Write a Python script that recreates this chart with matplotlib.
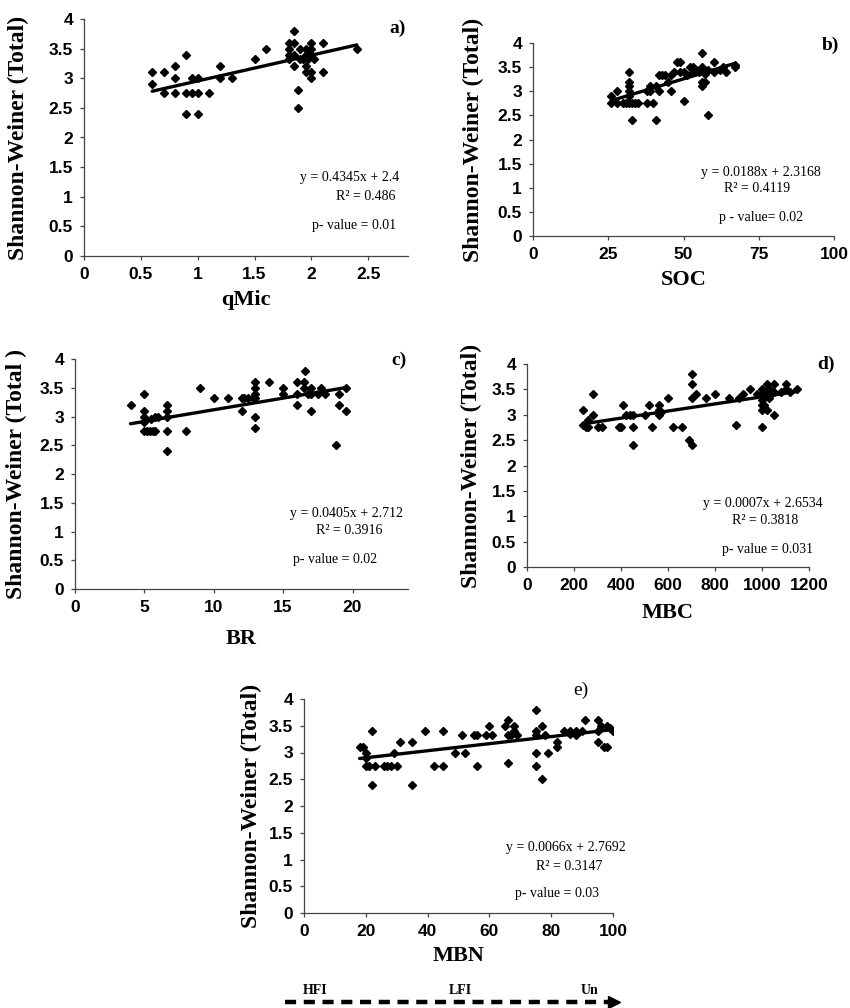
import numpy as np
import matplotlib
matplotlib.use("Agg")
import matplotlib.pyplot as plt
from matplotlib.lines import Line2D
from matplotlib.ticker import FormatStrFormatter

# panel a) qMic
qmic_x = [0.6, 0.6, 0.7, 0.7, 0.8, 0.8, 0.8, 0.9, 0.9, 0.9, 0.95, 0.95, 1.0, 1.0, 1.0, 1.1,
          1.2, 1.2, 1.3, 1.5, 1.6, 1.8, 1.8, 1.8, 1.8, 1.85, 1.85, 1.85, 1.85, 1.88, 1.88,
          1.9, 1.9, 1.93, 1.95, 1.95, 1.95, 1.95, 1.97, 1.98, 2.0, 2.0, 2.0, 2.0, 2.0, 2.02,
          2.1, 2.1, 2.4]
qmic_y = [3.1, 2.9, 3.1, 2.75, 3.2, 3.0, 2.75, 3.4, 2.75, 2.4, 2.75, 3.0, 3.0, 2.75, 2.4, 2.75,
          3.2, 3.0, 3.0, 3.33, 3.5, 3.6, 3.5, 3.4, 3.33, 3.8, 3.6, 3.4, 3.2, 2.8, 2.5,
          3.33, 3.5, 3.33, 3.5, 3.4, 3.2, 3.1, 3.33, 3.45, 3.6, 3.5, 3.4, 3.1, 3.0, 3.33,
          3.6, 3.1, 3.5]

# panel b) SOC
soc_x = [26, 26, 28, 28, 30, 31, 32, 32, 32, 32, 32, 32, 33, 33, 34, 35, 38, 38, 39, 39, 40,
         41, 41, 42, 42, 43, 44, 45, 46, 46, 47, 48, 49, 49, 50, 50, 51, 52, 53, 53, 54, 55,
         56, 56, 56, 56, 57, 57, 58, 58, 60, 60, 62, 63, 64, 67, 67]
soc_y = [2.9, 2.75, 3.0, 2.75, 2.75, 2.75, 3.4, 3.2, 3.1, 3.0, 2.9, 2.75, 2.75, 2.4, 2.75, 2.75,
         3.0, 2.75, 3.1, 3.0, 2.75, 3.1, 2.4, 3.33, 3.0, 3.33, 3.33, 3.2, 3.33, 3.0, 3.4, 3.6,
         3.6, 3.4, 3.4, 2.8, 3.33, 3.5, 3.4, 3.5, 3.45, 3.4, 3.8, 3.5, 3.2, 3.1, 3.2, 3.35,
         2.5, 3.45, 3.6, 3.4, 3.45, 3.5, 3.4, 3.5, 3.55]

# panel c) BR
br_x = [4, 5, 5, 5, 5, 5, 5.2, 5.4, 5.6, 5.8, 5.5, 5.8, 6, 6.6, 6.6, 6.6, 6.6, 6.6, 8, 9, 10,
        11, 12, 12, 12.2, 12.5, 12.8, 13, 13, 13, 13, 13, 13, 14, 15, 15, 16, 16, 16, 16.5,
        16.5, 16.6, 16.8, 17, 17, 17, 17.5, 17.7, 18, 18.8, 19, 19, 19.5, 19.5]
br_y = [3.2, 3.4, 3.1, 3.0, 2.9, 2.75, 2.75, 2.75, 2.75, 2.75, 2.95, 3.0, 3.0, 3.2, 3.1, 3.0,
        2.75, 2.4, 2.75, 3.5, 3.33, 3.33, 3.33, 3.1, 3.33, 3.33, 3.33, 3.6, 3.5, 3.4, 3.33,
        3.0, 2.8, 3.6, 3.5, 3.4, 3.6, 3.4, 3.2, 3.6, 3.5, 3.8, 3.4, 3.5, 3.4, 3.1, 3.4, 3.5,
        3.4, 2.5, 3.4, 3.2, 3.1, 3.5]

# panel d) MBC
mbc_x = [240, 240, 250, 260, 260, 280, 280, 300, 320, 390, 400, 410, 420, 440, 450, 450, 450,
         500, 520, 530, 560, 560, 560, 570, 600, 620, 660, 690, 700, 700, 700, 700, 720, 760,
         800, 860, 890, 900, 920, 950, 980, 1000, 1000, 1000, 1000, 1000, 1000, 1010, 1010,
         1020, 1020, 1020, 1030, 1030, 1040, 1050, 1050, 1050, 1080, 1100, 1100, 1120, 1150]
mbc_y = [3.1, 2.8, 2.75, 2.9, 2.75, 3.4, 3.0, 2.75, 2.75, 2.75, 2.75, 3.2, 3.0, 3.0, 3.0, 2.75,
         2.4, 3.0, 3.2, 2.75, 3.2, 3.1, 3.0, 3.05, 3.33, 2.75, 2.75, 2.5, 2.4, 3.8, 3.6, 3.33,
         3.4, 3.33, 3.4, 3.33, 2.8, 3.33, 3.4, 3.5, 3.4, 3.5, 3.4, 3.3, 3.2, 3.1, 2.75, 3.45,
         3.2, 3.6, 3.4, 3.1, 3.5, 3.33, 3.4, 3.6, 3.45, 3.0, 3.45, 3.6, 3.5, 3.45, 3.5]

# panel e) MBN
mbn_x = [18, 19, 20, 20, 20, 21, 22, 22, 23, 26, 27, 28, 29, 30, 31, 35, 35, 39, 42, 45, 45,
         49, 51, 52, 55, 56, 56, 59, 60, 61, 65, 66, 66, 66, 67, 68, 68, 69, 75, 75, 75, 75,
         75, 77, 77, 78, 79, 82, 82, 84, 86, 86, 88, 88, 90, 91, 95, 95, 95, 96, 97, 98, 98,
         99, 100]
mbn_y = [3.1, 3.1, 3.0, 2.9, 2.75, 2.75, 3.4, 2.4, 2.75, 2.75, 2.75, 2.75, 3.0, 2.75, 3.2, 3.2,
         2.4, 3.4, 2.75, 3.4, 2.75, 3.0, 3.33, 3.0, 3.33, 3.33, 2.75, 3.33, 3.5, 3.33, 3.5, 3.6,
         3.33, 2.8, 3.33, 3.5, 3.4, 3.33, 3.8, 3.4, 3.33, 3.0, 2.75, 3.5, 2.5, 3.33, 3.0, 3.2,
         3.1, 3.4, 3.4, 3.35, 3.33, 3.4, 3.4, 3.6, 3.6, 3.4, 3.2, 3.5, 3.1, 3.5, 3.1, 3.45, 3.4]

xs = [qmic_x, soc_x, br_x, mbc_x, mbn_x]
ys = [qmic_y, soc_y, br_y, mbc_y, mbn_y]
xlabels = ["qMic", "SOC", "BR", "MBC", "MBN"]
ylabels = ["Shannon-Weiner (Total)", "Shannon-Weiner (Total)", "Shannon-Weiner (Total )",
           "Shannon-Weiner (Total)", "Shannon-Weiner (Total)"]
letters = ["a)", "b)", "c)", "d)", "e)"]
slopes = [0.4345, 0.0188, 0.0405, 0.0007, 0.0066]
intercepts = [2.52, 2.3168, 2.712, 2.6534, 2.7692]
eq_texts = ["y = 0.4345x + 2.4", "y = 0.0188x + 2.3168", "y = 0.0405x + 2.712",
            "y = 0.0007x + 2.6534", "y = 0.0066x + 2.7692"]
r2_texts = ["R² = 0.486", "R² = 0.4119", "R² = 0.3916", "R² = 0.3818", "R² = 0.3147"]
p_texts = ["p- value = 0.01", "p - value= 0.02", "p- value = 0.02", "p- value = 0.031", "p- value = 0.03"]
xlims = [(0, 2.85), (0, 100), (0, 24), (0, 1200), (0, 100)]
xticks = [[0, 0.5, 1, 1.5, 2, 2.5], [0, 25, 50, 75, 100], [0, 5, 10, 15, 20],
          [0, 200, 400, 600, 800, 1000, 1200], [0, 20, 40, 60, 80, 100]]

W, H = 850, 1008
# axes boxes in pixels: left, top, right, bottom
boxes = [(84, 19, 408, 256), (533, 43, 834, 236), (75, 359, 408, 589),
         (527, 364, 809, 567), (304, 699, 613, 913)]
xpads = [6, 6, 10, 7, 5]
ypads = [14, 10, 9, 7, 5]
# text anchors in pixels
eq_pos = [(300, 178), (761, 172), (347, 513), (763, 503), (566, 848)]
r2_pos = [(366, 196), (757, 189), (349, 530), (765, 520), (569, 866)]
p_pos = [(354, 225), (761, 217), (335, 560), (768, 550), (557, 893)]
let_pos = [(398, 28), (830, 45), (399, 360), (826, 364), (581, 690)]

plt.rcParams['lines.scale_dashes'] = False
serif = "Liberation Serif"
sans = "Liberation Sans"

fig = plt.figure(figsize=(W / 100, H / 100), dpi=100)

def fx(px):
    return px / W

def fy(py):
    return 1 - py / H

for i in range(5):
    l, t, r, b = boxes[i]
    ax = fig.add_axes([fx(l), fy(b), (r - l) / W, (b - t) / H])
    ax.plot(xs[i], ys[i], 'D', color='black', ms=4.5, mec='black')
    x0, x1 = min(xs[i]), max(xs[i])
    ax.plot([x0, x1], [slopes[i] * x0 + intercepts[i], slopes[i] * x1 + intercepts[i]],
            color='black', lw=2.4, solid_capstyle='round')
    ax.set_xlim(*xlims[i])
    ax.set_ylim(0, 4)
    ax.set_xticks(xticks[i])
    ax.set_yticks(np.arange(0, 4.01, 0.5))
    ax.yaxis.set_major_formatter(FormatStrFormatter('%g'))
    ax.xaxis.set_major_formatter(FormatStrFormatter('%g'))
    for s in ['top', 'right']:
        ax.spines[s].set_visible(False)
    for s in ['left', 'bottom']:
        ax.spines[s].set_color('#444444')
        ax.spines[s].set_linewidth(0.9)
    ax.tick_params(direction='out', length=3, width=0.9, color='#444444', pad=5)
    for lab in ax.get_xticklabels() + ax.get_yticklabels():
        lab.set_fontfamily(sans)
        lab.set_fontweight('bold')
        lab.set_fontsize(12.5)
    ax.set_xlabel(xlabels[i], fontfamily=serif, fontweight='bold', fontsize=16, labelpad=xpads[i])
    ax.set_ylabel(ylabels[i], fontfamily=serif, fontweight='bold', fontsize=17, labelpad=ypads[i])

    ha_eq = 'left' if i == 0 else 'center'
    fig.text(fx(eq_pos[i][0]), fy(eq_pos[i][1]), eq_texts[i], ha=ha_eq, va='center',
             fontfamily=serif, fontsize=10)
    fig.text(fx(r2_pos[i][0]), fy(r2_pos[i][1]), r2_texts[i], ha='center', va='center',
             fontfamily=serif, fontsize=10)
    fig.text(fx(p_pos[i][0]), fy(p_pos[i][1]), p_texts[i], ha='center', va='center',
             fontfamily=serif, fontsize=10)
    fig.text(fx(let_pos[i][0]), fy(let_pos[i][1]), letters[i], ha='center', va='center',
             fontfamily=serif, fontsize=14, fontweight='normal' if i == 4 else 'bold')

# gradient arrow under panel e
arrow = Line2D([fx(285), fx(610)], [fy(1002), fy(1002)], transform=fig.transFigure,
               color='black', lw=3.2, linestyle=(0, (8, 5.5)))
fig.add_artist(arrow)
head = Line2D([fx(614)], [fy(1002)], transform=fig.transFigure, marker='>',
              ms=9, color='black', lw=0)
fig.add_artist(head)
for lbl, px in zip(["HFI", "LFI", "Un"], [315, 460, 590]):
    fig.text(fx(px), fy(990), lbl, ha='center', va='center', fontfamily=serif,
             fontweight='bold', fontsize=10)

fig.savefig('out.png', dpi=100)
